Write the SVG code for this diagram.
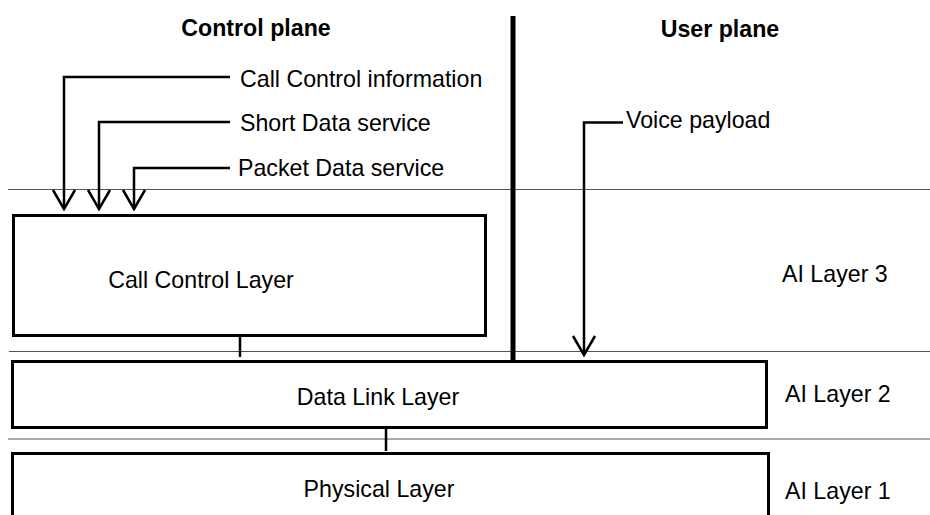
<svg xmlns="http://www.w3.org/2000/svg" width="930" height="515" viewBox="0 0 930 515">
<style>
text{font-family:"Liberation Sans",Arial,sans-serif;font-size:23.2px;fill:#000}
.b{font-weight:bold}
.box{fill:#fff;stroke:#000;stroke-width:3}
.sep{stroke:#555;stroke-width:1.2;fill:none}
.ln{stroke:#000;stroke-width:2.5;fill:none}
</style>
<defs>
<marker id="ah" markerUnits="userSpaceOnUse" markerWidth="24" markerHeight="26" refX="20" refY="12" orient="auto" viewBox="0 0 24 24">
<path d="M1,1 L20,12 L1,23" fill="none" stroke="#000" stroke-width="2.5"/>
</marker>
</defs>
<rect width="930" height="515" fill="#fff"/>
<g id="separators">
<line class="sep" x1="8" y1="189.5" x2="930" y2="189.5"/>
<line class="sep" x1="9" y1="351.5" x2="930" y2="351.5"/>
<line class="sep" x1="8" y1="439" x2="930" y2="439"/>
</g>
<g id="titles">
<text class="b" x="256" y="36" text-anchor="middle">Control plane</text>
<text class="b" x="720" y="37" text-anchor="middle">User plane</text>
</g>
<g id="call-control-layer">
<rect class="box" x="13.5" y="215.5" width="472" height="120"/>
<text x="201" y="288" text-anchor="middle">Call Control Layer</text>
</g>
<g id="data-link-layer">
<rect class="box" x="12.5" y="361.5" width="754" height="66"/>
<text x="378" y="405" text-anchor="middle">Data Link Layer</text>
</g>
<g id="physical-layer">
<rect class="box" x="12.5" y="453.5" width="756" height="70"/>
<text x="379" y="497" text-anchor="middle">Physical Layer</text>
</g>
<g id="layer-labels">
<text x="782" y="282">AI Layer 3</text>
<text x="785" y="402">AI Layer 2</text>
<text x="785" y="499">AI Layer 1</text>
</g>
<g id="inputs">
<text x="240" y="87">Call Control information</text>
<text x="240" y="131">Short Data service</text>
<text x="238" y="176">Packet Data service</text>
<text x="626" y="128">Voice payload</text>
</g>
<g id="connectors">
<polyline class="ln" points="230,77 64,77 64,209" marker-end="url(#ah)"/>
<polyline class="ln" points="230,122 99,122 99,209" marker-end="url(#ah)"/>
<polyline class="ln" points="230,168 134,168 134,209" marker-end="url(#ah)"/>
<polyline class="ln" points="623,122.5 584,122.5 584,355" marker-end="url(#ah)"/>
<line class="ln" x1="240" y1="336" x2="240" y2="357"/>
<line class="ln" x1="386" y1="428" x2="386" y2="451"/>
<line x1="513" y1="16" x2="513" y2="361" stroke="#000" stroke-width="5"/>
</g>
</svg>
